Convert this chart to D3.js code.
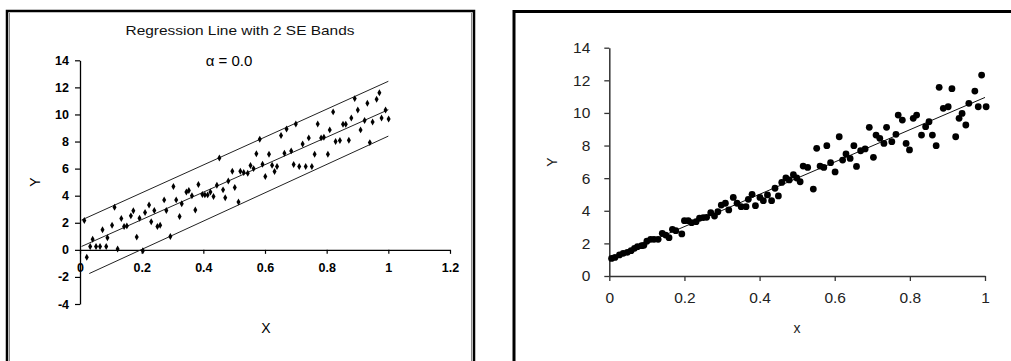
<!DOCTYPE html>
<html><head><meta charset="utf-8">
<script src="https://cdn.jsdelivr.net/npm/d3@7"></script>
<style>body{margin:0;background:#fff}svg{display:block}</style>
</head><body>
<svg id="c" width="1011" height="361"></svg>
<script>
// ---------- data ----------
const leftX = [0.014,0.022,0.033,0.041,0.052,0.065,0.073,0.085,0.089,0.104,0.112,0.122,0.134,0.143,0.152,0.165,0.173,0.184,0.193,0.204,
0.211,0.224,0.231,0.241,0.251,0.260,0.273,0.280,0.293,0.303,0.312,0.323,0.330,0.345,0.353,0.363,0.374,0.384,0.397,0.405,
0.414,0.423,0.433,0.444,0.452,0.464,0.471,0.481,0.494,0.502,0.514,0.520,0.531,0.544,0.553,0.563,0.572,0.583,0.592,0.601,
0.613,0.623,0.631,0.639,0.652,0.663,0.670,0.685,0.693,0.700,0.711,0.722,0.732,0.742,0.752,0.761,0.771,0.782,0.791,0.804,
0.810,0.821,0.829,0.843,0.853,0.862,0.872,0.880,0.891,0.901,0.910,0.923,0.932,0.940,0.949,0.962,0.971,0.978,0.991,1.001];
const leftY = [2.17,-0.54,0.25,0.79,0.25,0.25,1.48,0.25,0.89,1.82,3.15,0.07,2.31,1.72,1.77,2.51,2.88,0.94,2.34,-0.07,
2.76,3.32,2.07,2.90,1.72,1.82,3.69,2.90,0.98,4.68,3.69,2.46,3.40,4.28,4.38,3.99,2.95,4.82,4.08,4.06,
4.06,4.28,3.94,4.77,6.79,4.43,3.84,5.09,5.81,4.60,3.54,5.81,5.71,5.66,6.23,6.00,7.09,8.17,6.32,5.41,
7.06,6.25,5.78,6.15,8.44,7.14,8.93,7.31,6.30,9.30,6.15,7.82,6.15,8.27,6.15,7.06,9.30,8.27,8.32,7.06,
8.86,10.19,8.00,8.07,9.28,9.28,8.10,9.74,11.17,10.33,8.86,9.55,10.83,7.92,9.45,11.12,11.61,9.74,10.33,9.67];
const leftFit   = [[0.005,0.25],[1.0,10.35]];
const leftUpper = [[0.005,2.2],[1.0,12.45]];
const leftLower = [[0.03,-1.75],[1.0,8.4]];
const leftXTicks = [0,0.2,0.4,0.6,0.8,1,1.2];
const leftYTicks = [-4,-2,0,2,4,6,8,10,12,14];
const leftTitle = "Regression Line with 2 SE Bands";
const leftSub = "\u03b1 = 0.0";

const rightX = [0.006,0.015,0.027,0.037,0.048,0.058,0.067,0.075,0.086,0.092,0.100,0.110,0.119,0.130,0.141,0.150,0.159,0.168,0.177,0.193,
0.200,0.210,0.219,0.231,0.240,0.250,0.259,0.270,0.280,0.289,0.298,0.309,0.318,0.330,0.340,0.351,0.364,0.370,0.380,0.389,
0.401,0.410,0.421,0.432,0.441,0.450,0.459,0.470,0.479,0.490,0.499,0.508,0.516,0.528,0.543,0.552,0.561,0.571,0.579,0.589,
0.601,0.612,0.621,0.630,0.641,0.651,0.658,0.669,0.681,0.692,0.703,0.710,0.720,0.731,0.738,0.752,0.763,0.769,0.780,0.790,
0.799,0.809,0.818,0.831,0.842,0.851,0.860,0.870,0.878,0.889,0.902,0.912,0.922,0.931,0.939,0.949,0.957,0.973,0.982,0.991,1.003];
const rightY = [1.08,1.14,1.29,1.39,1.45,1.55,1.70,1.80,1.86,1.88,2.13,2.25,2.25,2.25,2.62,2.51,2.35,2.86,2.78,2.58,
3.39,3.39,3.27,3.33,3.54,3.58,3.60,3.88,3.68,3.94,4.35,4.46,4.05,4.82,4.46,4.25,4.25,4.70,5.01,4.31,
4.82,4.62,4.97,4.62,5.38,4.91,5.74,6.01,5.89,6.21,6.01,5.78,6.74,6.66,5.33,7.83,6.74,6.66,7.99,6.95,
6.38,8.54,7.11,7.48,7.21,7.99,6.72,7.68,7.79,9.12,7.28,8.64,8.44,8.13,9.12,8.24,8.69,9.87,9.56,8.13,
7.73,9.67,9.87,8.64,9.16,9.46,8.64,7.99,11.57,10.28,10.38,11.49,8.54,9.67,9.97,9.26,10.59,11.34,10.38,12.32,10.38];
const rightFit = [[0.0,1.05],[1.0,10.95]];
const rightXTicks = [0,0.2,0.4,0.6,0.8,1];
const rightYTicks = [0,2,4,6,8,10,12,14];

// ---------- drawing ----------
const svg = d3.select("#c");
svg.append("rect").attr("width",1011).attr("height",361).attr("fill","#fff");
const fmt = d => String(+d.toFixed(1));
const FF = "Liberation Sans, Arial, sans-serif";

// ===== Left panel frame =====
svg.append("path").attr("d","M7,361 V11 H474 V361").attr("fill","none").attr("stroke","#000").attr("stroke-width",2.5);
svg.append("line").attr("x1",9.5).attr("x2",9.5).attr("y1",13).attr("y2",361).attr("stroke","#888").attr("stroke-width",1);
svg.append("line").attr("x1",471.5).attr("x2",471.5).attr("y1",13).attr("y2",361).attr("stroke","#888").attr("stroke-width",1);

const xL = d3.scaleLinear().domain([0,1.2]).range([80,450]);
const yL = d3.scaleLinear().domain([-4,14]).range([304,60.3]);

const gL = svg.append("g");
const yAxL = gL.append("g").attr("transform","translate(80,0)")
  .call(d3.axisLeft(yL).tickValues(leftYTicks).tickSize(5).tickSizeOuter(0).tickFormat(d=>d));
const xAxL = gL.append("g").attr("transform",`translate(0,${yL(0)})`)
  .call(d3.axisBottom(xL).tickValues(leftXTicks).tickSize(4).tickSizeOuter(0).tickFormat(fmt));
[yAxL,xAxL].forEach(a=>{
  a.select(".domain").attr("stroke","#000").attr("stroke-width",1.3);
  a.selectAll(".tick line").attr("stroke","#000").attr("stroke-width",1.2);
  a.selectAll("text").attr("font-family",FF).attr("font-size",12.5)
   .attr("font-weight","bold").attr("fill","#000");
});
yAxL.selectAll("text").attr("x",-11);
xAxL.selectAll("text").attr("dy","0.71em").attr("y",13);

const lineL = d3.line().x(d=>xL(d[0])).y(d=>yL(d[1]));
[leftFit,leftUpper,leftLower].forEach(ln=>{
  gL.append("path").attr("d",lineL(ln)).attr("fill","none").attr("stroke","#222").attr("stroke-width",1);
});
const diamond = d3.symbol().type(d3.symbolDiamond).size(14);
gL.selectAll("path.pt").data(leftX.map((x,i)=>[x,leftY[i]])).join("path").attr("class","pt")
  .attr("d",diamond).attr("transform",d=>`translate(${xL(d[0])},${yL(d[1])})`).attr("fill","#000");

gL.append("text").attr("x",240).attr("y",35).attr("text-anchor","middle")
  .attr("font-family",FF).attr("font-size",13).attr("fill","#111")
  .attr("textLength",229).attr("lengthAdjust","spacingAndGlyphs").text(leftTitle);
gL.append("text").attr("x",229).attr("y",66).attr("text-anchor","middle")
  .attr("font-family",FF).attr("font-size",15).text(leftSub);
gL.append("text").attr("x",266).attr("y",333).attr("text-anchor","middle")
  .attr("font-family",FF).attr("font-size",14).text("X");
gL.append("text").attr("transform","translate(40,182) rotate(-90)").attr("text-anchor","middle")
  .attr("font-family",FF).attr("font-size",14).text("Y");

// ===== Right panel frame =====
svg.append("path").attr("d","M514,361 V11.5 H1015").attr("fill","none").attr("stroke","#000").attr("stroke-width",3);

const xR = d3.scaleLinear().domain([0,1]).range([609.3,985]);
const yR = d3.scaleLinear().domain([0,14]).range([276,47.7]);
const gR = svg.append("g");
const yAxR = gR.append("g").attr("transform","translate(609.3,0)")
  .call(d3.axisLeft(yR).tickValues(rightYTicks).tickSize(5).tickSizeOuter(0).tickFormat(d=>d));
const xAxR = gR.append("g").attr("transform",`translate(0,${yR(0)})`)
  .call(d3.axisBottom(xR).tickValues(rightXTicks).tickSize(5).tickSizeOuter(0).tickFormat(fmt));
[yAxR,xAxR].forEach(a=>{
  a.select(".domain").attr("stroke","#333").attr("stroke-width",1.5);
  a.selectAll(".tick line").attr("stroke","#333").attr("stroke-width",1.3);
  a.selectAll("text").attr("font-family",FF).attr("font-size",15.5).attr("fill","#222");
});
yAxR.selectAll("text").attr("x",-19);
xAxR.selectAll("text").attr("y",16);

const lineR = d3.line().x(d=>xR(d[0])).y(d=>yR(d[1]));
gR.append("path").attr("d",lineR(rightFit)).attr("fill","none").attr("stroke","#111").attr("stroke-width",1);
gR.selectAll("circle").data(rightX.map((x,i)=>[x,rightY[i]])).join("circle")
  .attr("cx",d=>xR(d[0])).attr("cy",d=>yR(d[1])).attr("r",3.4).attr("fill","#000");

gR.append("text").attr("x",797).attr("y",333).attr("text-anchor","middle")
  .attr("font-family",FF).attr("font-size",14).attr("fill","#222").text("x");
gR.append("text").attr("transform","translate(557,162) rotate(-90)").attr("text-anchor","middle")
  .attr("font-family",FF).attr("font-size",14).attr("fill","#222").text("Y");
</script>
</body></html>
